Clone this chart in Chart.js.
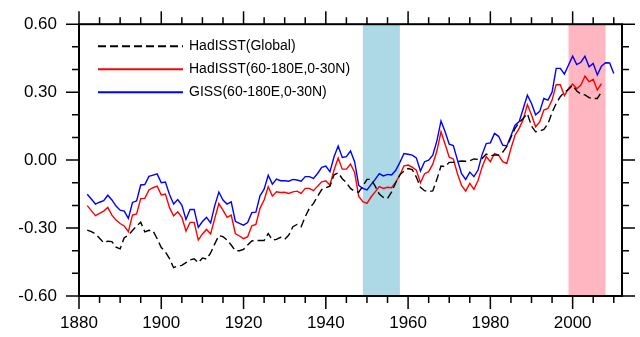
<!DOCTYPE html>
<html>
<head>
<meta charset="utf-8">
<script src="https://cdn.jsdelivr.net/npm/chart.js@4.4.1/dist/chart.umd.min.js"></script>
<style>
    html, body { margin: 0; padding: 0; background: #fff; }
    #wrap { width: 640px; height: 337px; position: relative; }
</style>
</head>
<body>
<div id="wrap"><canvas id="sstChart"></canvas></div>
<script>
// annual series, first value is 1882
const startYear = 1882;

const hadGlobal = [
    -0.309, -0.316, -0.326, -0.345, -0.365, -0.358, -0.360, -0.384, -0.392, -0.343,
    -0.331, -0.311, -0.291, -0.274, -0.317, -0.310, -0.312, -0.347, -0.386, -0.405,
    -0.435, -0.475, -0.467, -0.465, -0.453, -0.441, -0.436, -0.453, -0.432, -0.437,
    -0.410, -0.370, -0.333, -0.338, -0.353, -0.375, -0.400, -0.400, -0.394, -0.375,
    -0.357, -0.355, -0.355, -0.355, -0.324, -0.353, -0.350, -0.341, -0.350, -0.331,
    -0.294, -0.284, -0.294, -0.250, -0.213, -0.191, -0.160, -0.130, -0.122, -0.115,
    -0.065, -0.056, -0.082, -0.100, -0.125, -0.138, -0.142, -0.115, -0.085, -0.085,
    -0.115, -0.150, -0.165, -0.170, -0.140, -0.100, -0.065, -0.048, -0.037, -0.042,
    -0.075, -0.120, -0.135, -0.138, -0.136, -0.085, -0.026, -0.029, -0.010, -0.010,
    -0.007, -0.004, -0.005, -0.003, 0.005, 0.003, 0.007, 0.027, 0.019, 0.023,
    0.022, 0.035, 0.060, 0.100, 0.140, 0.165, 0.185, 0.205, 0.150, 0.125,
    0.128, 0.135, 0.160, 0.210, 0.250, 0.280, 0.300, 0.312, 0.330, 0.305,
    0.292, 0.288, 0.276, 0.272, 0.272, 0.300
];

const hadRegion = [
    -0.201, -0.223, -0.245, -0.235, -0.225, -0.209, -0.243, -0.265, -0.280, -0.291,
    -0.316, -0.243, -0.238, -0.170, -0.169, -0.132, -0.122, -0.115, -0.154, -0.150,
    -0.210, -0.246, -0.228, -0.253, -0.313, -0.275, -0.275, -0.353, -0.326, -0.306,
    -0.326, -0.257, -0.192, -0.221, -0.253, -0.243, -0.324, -0.335, -0.347, -0.338,
    -0.290, -0.284, -0.213, -0.176, -0.118, -0.159, -0.140, -0.143, -0.142, -0.147,
    -0.140, -0.137, -0.147, -0.125, -0.125, -0.135, -0.115, -0.096, -0.091, -0.110,
    -0.044, 0.009, -0.040, -0.040, -0.017, -0.055, -0.160, -0.184, -0.191, -0.163,
    -0.140, -0.117, -0.125, -0.120, -0.122, -0.097, -0.066, -0.025, -0.022, -0.031,
    -0.044, -0.100, -0.060, -0.051, -0.018, 0.040, 0.125, 0.070, 0.013, 0.005,
    -0.060, -0.112, -0.137, -0.103, -0.129, -0.090, -0.030, 0.015, -0.007, 0.029,
    0.022, -0.007, -0.015, 0.051, 0.110, 0.140, 0.180, 0.245, 0.199, 0.147,
    0.169, 0.221, 0.228, 0.265, 0.333, 0.333, 0.285, 0.316, 0.336, 0.315,
    0.331, 0.371, 0.346, 0.357, 0.310, 0.338
];

const gissRegion = [
    -0.151, -0.172, -0.194, -0.186, -0.179, -0.155, -0.176, -0.203, -0.221, -0.225,
    -0.257, -0.187, -0.180, -0.110, -0.108, -0.072, -0.066, -0.061, -0.100, -0.097,
    -0.152, -0.194, -0.174, -0.199, -0.262, -0.218, -0.218, -0.297, -0.271, -0.253,
    -0.277, -0.201, -0.141, -0.176, -0.194, -0.184, -0.270, -0.279, -0.287, -0.276,
    -0.232, -0.230, -0.158, -0.128, -0.067, -0.106, -0.084, -0.091, -0.091, -0.093,
    -0.085, -0.088, -0.093, -0.073, -0.073, -0.081, -0.059, -0.032, -0.026, -0.051,
    0.015, 0.062, 0.012, 0.015, 0.040, -0.007, -0.112, -0.125, -0.132, -0.108,
    -0.085, -0.060, -0.070, -0.063, -0.066, -0.045, -0.010, 0.029, 0.026, 0.022,
    0.010, -0.048, -0.007, 0.000, 0.022, 0.085, 0.173, 0.125, 0.070, 0.064,
    0.000, -0.060, -0.085, -0.053, -0.073, -0.044, 0.025, 0.073, 0.076, 0.118,
    0.105, 0.066, 0.062, 0.108, 0.154, 0.170, 0.228, 0.287, 0.250, 0.200,
    0.215, 0.272, 0.265, 0.300, 0.405, 0.405, 0.380, 0.420, 0.459, 0.422,
    0.432, 0.459, 0.412, 0.427, 0.376, 0.415, 0.430, 0.429, 0.382
];

const seriesLabels = ['HadISST(Global)', 'HadISST(60-180E,0-30N)', 'GISS(60-180E,0-30N)'];
const xTickLabels = [1880, 1900, 1920, 1940, 1960, 1980, 2000];
const yTickLabels = [-0.6, -0.3, 0, 0.3, 0.6];
const shadedPeriods = [[1949, 1958], [1999, 2008]];

function toPoints(values) {
    return values.map((v, i) => ({ x: startYear + i, y: v }));
}

const fontFamily = '"Liberation Sans", Arial, Helvetica, sans-serif';

// shaded periods behind the lines
const bandsPlugin = {
    id: 'bands',
    beforeDatasetsDraw(chart) {
        const { ctx, chartArea, scales } = chart;
        const colors = ['#ADD8E6', '#FFB6C1'];
        ctx.save();
        shadedPeriods.forEach((p, i) => {
            const x0 = scales.x.getPixelForValue(p[0]);
            const x1 = scales.x.getPixelForValue(p[1]);
            ctx.fillStyle = colors[i];
            ctx.fillRect(x0, chartArea.top, x1 - x0, chartArea.bottom - chartArea.top);
        });
        ctx.restore();
    }
};

// frame with outward major/minor ticks on all four sides
const framePlugin = {
    id: 'frame',
    afterDatasetsDraw(chart) {
        const { ctx, chartArea, scales } = chart;
        const { left, right, top, bottom } = chartArea;
        ctx.save();
        ctx.strokeStyle = '#000';
        ctx.lineWidth = 1.5;
        ctx.beginPath();
        for (let yr = 1880; yr <= 2010; yr += 5) {
            const x = scales.x.getPixelForValue(yr);
            const len = yr % 20 === 0 ? 13 : 7;
            ctx.moveTo(x, bottom); ctx.lineTo(x, bottom + len);
            ctx.moveTo(x, top); ctx.lineTo(x, top - len);
        }
        for (let k = -6; k <= 6; k++) {
            const y = scales.y.getPixelForValue(k / 10);
            const len = k % 3 === 0 ? 13 : 7;
            ctx.moveTo(left, y); ctx.lineTo(left - len, y);
            ctx.moveTo(right, y); ctx.lineTo(right + len, y);
        }
        ctx.stroke();
        ctx.lineWidth = 2;
        ctx.strokeRect(left, top, right - left, bottom - top);
        ctx.restore();
    }
};

// legend inside the plot, top left
const insideLegendPlugin = {
    id: 'insideLegend',
    afterDraw(chart) {
        const { ctx, chartArea } = chart;
        ctx.save();
        ctx.font = '14px ' + fontFamily;
        ctx.textBaseline = 'middle';
        chart.data.datasets.forEach((ds, i) => {
            const y = chartArea.top + 22 + i * 23;
            const x0 = chartArea.left + 19;
            const x1 = chartArea.left + 104;
            ctx.strokeStyle = ds.borderColor;
            ctx.lineWidth = 2;
            ctx.setLineDash(ds.borderDash || []);
            ctx.beginPath();
            ctx.moveTo(x0, y);
            ctx.lineTo(x1, y);
            ctx.stroke();
            ctx.setLineDash([]);
            ctx.fillStyle = '#000';
            ctx.fillText(ds.label, x1 + 6, y);
        });
        ctx.restore();
    }
};

const ctx = document.getElementById('sstChart').getContext('2d');
new Chart(ctx, {
    type: 'line',
    data: {
        datasets: [
            {
                label: seriesLabels[0],
                data: toPoints(hadGlobal),
                borderColor: '#000000',
                borderDash: [8, 4],
                borderWidth: 1.4
            },
            {
                label: seriesLabels[1],
                data: toPoints(hadRegion),
                borderColor: '#FF0000',
                borderWidth: 1.4
            },
            {
                label: seriesLabels[2],
                data: toPoints(gissRegion),
                borderColor: '#0000FF',
                borderWidth: 1.4
            }
        ]
    },
    options: {
        responsive: true,
        maintainAspectRatio: false,
        animation: false,
        layout: { padding: { left: 0, top: 0, right: 18, bottom: 0 } },
        elements: { point: { radius: 0 }, line: { tension: 0, fill: false } },
        plugins: {
            legend: { display: false },
            tooltip: { enabled: false }
        },
        scales: {
            x: {
                type: 'linear',
                min: 1880,
                max: 2012,
                border: { display: false },
                grid: { display: false, drawTicks: false },
                afterBuildTicks: scale => { scale.ticks = xTickLabels.map(v => ({ value: v })); },
                afterFit: scale => { scale.height = 41; },
                ticks: {
                    padding: 17,
                    color: '#000',
                    maxRotation: 0,
                    font: { family: fontFamily, size: 17 },
                    callback: v => String(v)
                }
            },
            y: {
                min: -0.6,
                max: 0.6,
                border: { display: false },
                // tickLength only shifts the labels, marks are drawn by framePlugin
                grid: { display: false, drawTicks: true, tickLength: 8 },
                afterBuildTicks: scale => { scale.ticks = yTickLabels.map(v => ({ value: v })); },
                afterFit: scale => { scale.width = 79; },
                ticks: {
                    padding: 14,
                    color: '#000',
                    font: { family: fontFamily, size: 17 },
                    callback: v => v.toFixed(2)
                }
            }
        }
    },
    plugins: [bandsPlugin, framePlugin, insideLegendPlugin]
});
</script>
</body>
</html>
